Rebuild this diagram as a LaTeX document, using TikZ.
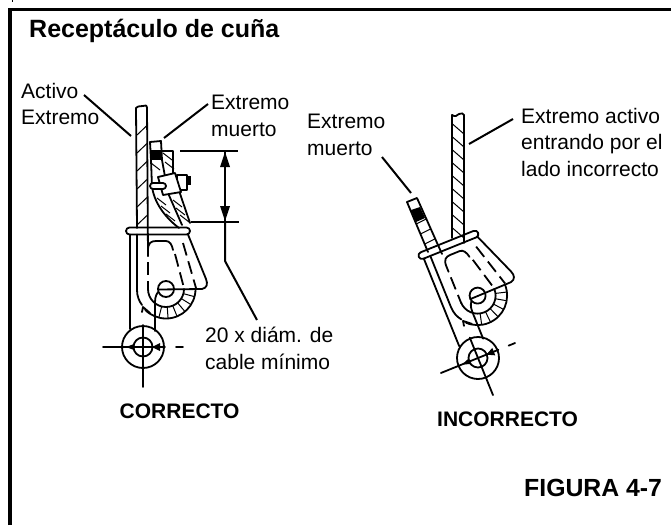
\documentclass[tikz,border=0pt]{standalone}
\usepackage{fontspec}
\setmainfont{Liberation Sans}
\tikzset{
  lbl/.style={inner sep=0pt,align=left,anchor=north west,font=\fontsize{21}{26.5}\selectfont},
  boldlbl/.style={inner sep=0pt,anchor=base west,font=\bfseries\fontsize{21}{24}\selectfont},
  ln/.style={line width=1.8pt,line cap=round,line join=round},
  hat/.style={line width=1pt},
  dash5/.style={line width=1.8pt,dash pattern=on 13pt off 6pt},
  lead/.style={line width=2pt},
  frame/.style={line width=3.2pt}
}
\newcommand{\thimblebody}{%
  % pin
  \draw[ln] (143,347) circle (21);
  \draw[ln] (143,347) circle (9.5);
  \draw[ln] (103,347) -- (165,347);
  \draw[ln] (176,347) -- (183,347);
  \draw[ln] (143,325) -- (143,387);
  \fill (126,347) -- (134,344) -- (134,350) -- cycle;
  \fill (152,347) -- (160,343) -- (160,351) -- cycle;
  % straps
  \draw[ln,rounded corners=3.5pt] (126,227.5) rectangle (190,234.5);
  \draw[ln] (130,234.5) -- (130,329);
  \draw[ln] (137,234.5) -- (137,290) .. controls (137,296) and (139,301) .. (142,305);
  \draw[ln] (142,312) -- (143,307) -- (150,313);
  \draw[ln] (158,292) .. controls (155,296) and (155,300) .. (155,305) -- (155,331);
  % thimble
  \draw[ln] (166,289) circle (8);
  \draw[ln] (158,289.5) -- (202,289) .. controls (207,288) and (208,284) .. (206,279) -- (188,234.5);
  \draw[ln] (195.5,289) arc (0:135:29.5);
  \draw[ln] (184,289) arc (0:180:18);
  \foreach \a in {15,32,50,68,86,104}
    \draw[hat] ({166+18*cos(\a)},{289+18*sin(\a)}) -- ({166+29.5*cos(\a)},{289+29.5*sin(\a)});
  % inner dashed loop
  \draw[ln] (148,256) -- (148,250) .. controls (148,243) and (151,241) .. (156,241) -- (166,241) .. controls (170,241) and (172,245) .. (173,250);
  \draw[dash5] (148,262) -- (148,290);
  \draw[dash5] (175,254) -- (184,288);
  \draw[dash5] (183,243) -- (196,288);
}
\begin{document}
\begin{tikzpicture}[x=1pt,y=1pt,yscale=-1]
\useasboundingbox (0,0) rectangle (671,525);
\fill[white] (0,0) rectangle (671,525);
\draw[frame] (10,525) -- (10,9.5) -- (671,9.5);
\draw[line width=1pt] (12,0) -- (12,2);

\node[boldlbl,font=\bfseries\fontsize{25}{28}\selectfont] (title) at (29,37) {Receptáculo de cuña};
\node[lbl] (lactivo) at (21,83) {Activo\\Extremo};
\node[lbl] (lmuerto) at (211,95) {Extremo\\muerto};
\node[lbl] (lveinte) at (205,327) {20 x diám. de\\cable mínimo};
\node[lbl] (lmuerto2) at (307,114) {Extremo\\muerto};
\node[lbl] (lact2) at (521,108) {Extremo activo\\entrando por el\\lado incorrecto};
\node[boldlbl] (ccorrecto) at (119.5,418) {CORRECTO};
\node[boldlbl] (cincorrecto) at (437,426) {INCORRECTO};
\node[boldlbl,font=\bfseries\fontsize{24.8}{28}\selectfont] (cfig) at (524,496) {FIGURA 4-7};

% leaders
\coordinate (a1) at (84,95); \coordinate (a2) at (131,136);
\coordinate (b1) at (208,104); \coordinate (b2) at (164,138);
\coordinate (c1) at (513,119); \coordinate (c2) at (469,144);
\coordinate (d1) at (382,157); \coordinate (d2) at (411,193);
\draw[lead] (a1) -- (a2);
\draw[lead] (b1) -- (b2);
\draw[lead] (c1) -- (c2);
\draw[lead] (d1) -- (d2);

% LEFT FIGURE
\thimblebody
% main cable
\draw[ln] (136,108) -- (137,228);
\draw[ln] (147,108) -- (148,256);
\draw[ln] (136,108) .. controls (139,105) and (141,107) .. (143,106) .. controls (145,105) and (147,105) .. (147,108);
\foreach \y in {125,143,161,179,197,215}
  \draw[hat] (137,\y+10) -- (147.5,\y);
% dead strand
\draw[ln] (150,142) -- (161,141) -- (162,160) -- (168,193) -- (182,225);
\draw[ln] (150,142) -- (151,160) -- (152,187) .. controls (154,200) and (162,215) .. (179,228);
\draw[ln] (162,151) -- (173,151) -- (173,173) -- (190,223);
\fill (150,150) rectangle (162,160);
\foreach \x/\y in {151/163,163/153,165/162,173/200,176/208,180/215,157/198,161/206,166/214}
  \draw[hat] (\x,\y) -- ++(9,7);
% clamp
\draw[ln,fill=white] (177,175) rectangle (187,190);
\fill (187,176) rectangle (191,185);
\draw[ln,fill=white] (158,177) -- (175,173) -- (181,192) -- (163,195) -- cycle;
\draw[ln,fill=white,rounded corners=3pt] (150,183) rectangle (166,189);
% dimension
\draw[line width=2.4pt] (180,151) -- (238,151);
\draw[line width=2.4pt] (191,222) -- (239,222);
\draw[line width=2.4pt] (225,151) -- (225,222);
\fill (225,152) -- (220,167) -- (230,167) -- cycle;
\fill (225,221) -- (220,206) -- (230,206) -- cycle;
\draw[lead] (225,222) -- (225,261) -- (257,320);

% RIGHT FIGURE
\begin{scope}[shift={(335,11)},rotate around={-22:(143,347)}]
\thimblebody
\end{scope}
\draw[ln] (452,115) -- (452,238);
\draw[ln] (464,115) -- (464,243);
\draw[ln] (452,115) .. controls (455,117) and (457,116) .. (459,114) .. controls (461,113) and (464,113) .. (464,115);
\foreach \y in {124,137,150,163,176,189,202,215,228}
  \draw[hat] (452.5,\y) -- (464,\y+10);
\draw[ln] (407,202) -- (417,198) -- (442,254);
\draw[ln] (407,202) -- (428,252);
\fill (411,210) -- (420,207) -- (425,218) -- (416,222) -- cycle;
\foreach \y in {224,234,244}
  \draw[hat] ({407+(\y-202)*0.42},\y) -- ++(10,-5);
\end{tikzpicture}
\end{document}
